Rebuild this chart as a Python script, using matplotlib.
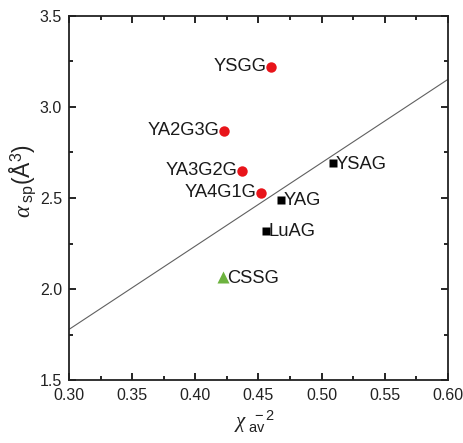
import matplotlib
matplotlib.use("Agg")
import matplotlib.pyplot as plt
from matplotlib.ticker import MultipleLocator, FormatStrFormatter

plt.rcParams['font.family'] = ['Liberation Sans', 'DejaVu Sans']
plt.rcParams['mathtext.fontset'] = 'custom'
plt.rcParams['mathtext.rm'] = 'Liberation Sans'
plt.rcParams['mathtext.it'] = 'Liberation Serif:italic'
plt.rcParams['mathtext.bf'] = 'Liberation Sans:bold'

# data
circle_names = ['YSGG', 'YA2G3G', 'YA3G2G', 'YA4G1G']
circle_x = [0.460, 0.423, 0.437, 0.452]
circle_y = [3.22, 2.87, 2.65, 2.53]

square_names = ['YAG', 'YSAG', 'LuAG']
square_x = [0.4675, 0.509, 0.4556]
square_y = [2.49, 2.69, 2.32]

tri_names = ['CSSG']
tri_x = [0.422]
tri_y = [2.065]

fit_x = [0.30, 0.60]
fit_y = [1.778, 3.152]

fig = plt.figure(figsize=(4.64, 4.43), dpi=100)
ax = fig.add_axes([0.1487, 0.1422, 0.8168, 0.8217])

ax.plot(fit_x, fit_y, color='#606060', lw=0.8, zorder=1)
ax.plot(circle_x, circle_y, 'o', color='#e8141a', ms=7.5, mec='none', zorder=3)
ax.plot(square_x, square_y, 's', color='black', ms=5.2, mec='none', zorder=3)
ax.plot(tri_x, tri_y, '^', color='#6db33f', ms=8, mec='none', zorder=3)

fs = 13.2
tc = '#1a1a1a'
for n, x, y in zip(circle_names, circle_x, circle_y):
    ax.text(x - 0.0035, y, n, ha='right', va='center', fontsize=fs, color=tc)
for n, x, y in zip(square_names, square_x, square_y):
    ax.text(x + 0.0022, y - 0.005, n, ha='left', va='center', fontsize=fs, color=tc)
for n, x, y in zip(tri_names, tri_x, tri_y):
    ax.text(x + 0.003, y - 0.01, n, ha='left', va='center', fontsize=fs, color=tc)

ax.set_xlim(0.30, 0.60)
ax.set_ylim(1.5, 3.5)
ax.xaxis.set_major_locator(MultipleLocator(0.05))
ax.xaxis.set_minor_locator(MultipleLocator(0.025))
ax.yaxis.set_major_locator(MultipleLocator(0.5))
ax.yaxis.set_minor_locator(MultipleLocator(0.25))
ax.xaxis.set_major_formatter(FormatStrFormatter('%.2f'))
ax.yaxis.set_major_formatter(FormatStrFormatter('%.1f'))
ax.tick_params(which='both', direction='in', top=True, right=True, width=1.2)
ax.tick_params(which='major', length=5, labelsize=11.5, labelcolor='#222222')
ax.tick_params(axis='x', which='major', pad=6)
ax.tick_params(axis='y', which='major', pad=5)
ax.tick_params(which='minor', length=3)
for s in ax.spines.values():
    s.set_linewidth(1.3)
    s.set_color('#222222')

ax.set_xlabel(r'$\chi_{\rm\ av}^{\ \ -2}$', fontsize=15, color='#222222')
ax.set_ylabel(r'$\alpha_{\rm\ sp}$(Å$^3$)', fontsize=16.5, color='#222222')
ax.xaxis.set_label_coords(0.49, -0.078)
ax.yaxis.set_label_coords(-0.082, 0.547)

fig.savefig('out.png', dpi=100)
